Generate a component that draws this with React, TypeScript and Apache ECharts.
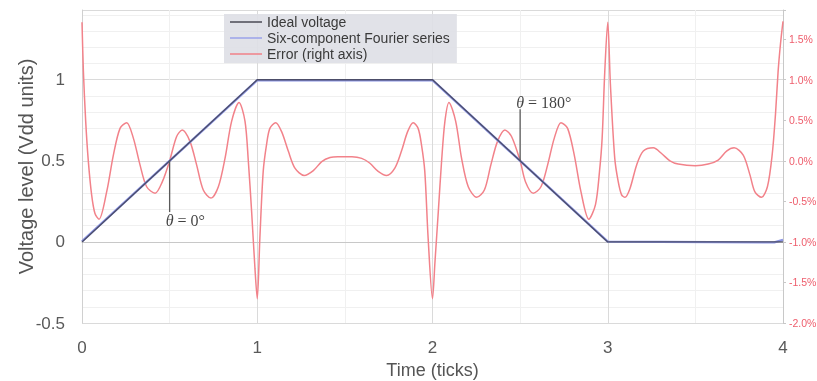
import React, { useEffect, useRef } from 'react';
import * as echarts from 'echarts';

// ---- data ----
const seriesNames = ['Ideal voltage', 'Six-component Fourier series', 'Error (right axis)'];
const xTickLabels = [0, 1, 2, 3, 4];
const leftTickLabels = [-0.5, 0, 0.5, 1];
const rightTickLabels = [-2.0, -1.5, -1.0, -0.5, 0.0, 0.5, 1.0, 1.5];

const idealX = [0, 1, 2, 3, 4];
const idealV = [0, 1, 1, 0, 0];

const fourierX = [0, 1, 2, 3, 3.95, 4];
const fourierV = [0.004, 0.997, 0.997, 0.002, -0.003, 0.012];

const errorX = [
  0, 0.008, 0.021, 0.036, 0.055, 0.074, 0.097, 0.141, 0.179, 0.217, 0.255, 0.293, 0.331, 0.369, 0.417, 0.458,
  0.5, 0.54, 0.572, 0.616, 0.654, 0.692, 0.736, 0.778, 0.816, 0.854, 0.896, 0.93, 0.949, 0.968, 0.987, 1.0,
  1.015, 1.034, 1.053, 1.072, 1.105, 1.139, 1.177, 1.215, 1.268, 1.32, 1.368, 1.415, 1.46, 1.5, 1.54, 1.596,
  1.643, 1.69, 1.738, 1.785, 1.823, 1.858, 1.89, 1.918, 1.937, 1.956, 1.975, 2.0,
  2.014, 2.033, 2.052, 2.071, 2.094, 2.132, 2.166, 2.204, 2.252, 2.296, 2.333, 2.371, 2.413, 2.451, 2.5, 2.531,
  2.575, 2.619, 2.657, 2.695, 2.733, 2.771, 2.809, 2.847, 2.892, 2.93, 2.953, 2.968, 2.983, 3.0,
  3.015, 3.04, 3.06, 3.079, 3.098, 3.127, 3.165, 3.203, 3.26, 3.307, 3.355, 3.402, 3.5, 3.573, 3.63, 3.678,
  3.721, 3.773, 3.811, 3.839, 3.877, 3.911, 3.938, 3.957, 3.972, 3.986, 4.0,
];
const errorPct = [
  1.71, 1.1, 0.49, 0.0, -0.42, -0.65, -0.72, -0.38, 0.07, 0.4, 0.47, 0.28, -0.05, -0.32, -0.4, -0.26,
  0.0, 0.3, 0.38, 0.24, -0.05, -0.36, -0.46, -0.32, 0.03, 0.49, 0.72, 0.49, 0.0, -0.63, -1.33, -1.7,
  -0.95, -0.13, 0.2, 0.4, 0.47, 0.36, 0.12, -0.09, -0.18, -0.12, -0.01, 0.04, 0.05, 0.05, 0.05, 0.03,
  -0.03, -0.13, -0.18, -0.09, 0.12, 0.36, 0.47, 0.4, 0.2, -0.13, -0.95, -1.7,
  -1.25, -0.63, 0.0, 0.49, 0.72, 0.49, 0.03, -0.32, -0.45, -0.36, -0.05, 0.24, 0.38, 0.3, 0.0, -0.26,
  -0.4, -0.32, -0.05, 0.28, 0.47, 0.4, 0.07, -0.38, -0.72, -0.54, -0.13, 0.28, 1.1, 1.71,
  0.95, 0.03, -0.26, -0.42, -0.45, -0.34, -0.05, 0.12, 0.16, 0.09, 0.0, -0.04, -0.06, -0.04, 0.01, 0.12,
  0.16, 0.07, -0.17, -0.38, -0.45, -0.32, 0.07, 0.57, 1.1, 1.45, 1.72,
];

// annotations (data coordinates on the left axis)
const annotationLabels = ['0°', '180°'];
const annotationX = [0.5, 2.5];
const annotationFrom = [0.5, 0.5];
const annotationTo = [0.185, 0.818];
const annotationTextY = [0.135, 0.862];

const zip = (xs: number[], ys: number[]) => xs.map((x, i) => [x, ys[i]]);
const near = (v: number, list: number[]) => list.some((t) => Math.abs(t - v) < 1e-6);

export default function App() {
  const ref = useRef<HTMLDivElement>(null);

  useEffect(() => {
    const chart = echarts.init(ref.current!, null, { renderer: 'svg' });
    const font = 'Liberation Sans, Arial, sans-serif';
    const serif = 'Liberation Serif, DejaVu Serif, serif';
    const major = '#dadada';
    const minor = '#f0f0f0';

    const annotationLineSeries = annotationX.map((x, i) => ({
      name: 'annot-line-' + i,
      type: 'line',
      yAxisIndex: 0,
      data: [[x, annotationFrom[i]], [x, annotationTo[i]]],
      symbol: 'none',
      lineStyle: { color: '#5a5a5a', width: 1.3 },
      z: 6,
      silent: true,
    }));

    const annotationTextSeries = {
      name: 'annot-text',
      type: 'scatter',
      yAxisIndex: 0,
      symbolSize: 0,
      silent: true,
      z: 7,
      data: annotationX.map((x, i) => ({
        value: [x, annotationTextY[i]],
        label: {
          show: true,
          position: 'inside',
          align: 'left',
          verticalAlign: 'middle',
          offset: [-4, 0],
          formatter: '{t|θ} = ' + annotationLabels[i],
          fontFamily: serif,
          fontSize: 16,
          color: '#111',
          rich: {
            t: { fontStyle: 'italic', fontFamily: serif, fontSize: 16, color: '#111' },
          },
        },
      })),
    };

    chart.setOption({
      animation: false,
      textStyle: { fontFamily: font },
      grid: { left: 82, right: 34, top: 10, bottom: 58, containLabel: false, outerBoundsMode: 'none' },
      legend: {
        data: seriesNames,
        orient: 'vertical',
        left: 224,
        top: 14,
        icon: 'rect',
        itemWidth: 32,
        itemHeight: 1.5,
        itemGap: 2,
        padding: [1, 7, 2, 6],
        backgroundColor: 'rgba(222,223,230,0.92)',
        textStyle: { fontSize: 14, color: '#3a3a3a', fontFamily: font },
      },
      xAxis: {
        type: 'value',
        min: 0,
        max: 4,
        interval: 0.5,
        name: 'Time (ticks)',
        nameLocation: 'middle',
        nameGap: 38,
        nameMoveOverlap: false,
        nameTextStyle: { fontSize: 18, color: '#555', fontFamily: font },
        axisLine: { show: true, lineStyle: { color: '#c8c8c8' } },
        axisTick: { show: false },
        axisLabel: {
          fontSize: 17,
          color: '#595959',
          margin: 16,
          formatter: (v: number) => (near(v, xTickLabels) ? String(v) : ''),
        },
        splitLine: { show: true, lineStyle: { color: [major, minor], width: 1 } },
      },
      yAxis: [
        {
          type: 'value',
          min: -0.5,
          max: 1.43,
          interval: 0.1,
          name: 'Voltage level (Vdd units)',
          nameLocation: 'middle',
          nameGap: 46,
          nameMoveOverlap: false,
          nameTextStyle: { fontSize: 20, color: '#555', fontFamily: font },
          axisLine: { show: true, lineStyle: { color: '#d0d0d0' } },
          axisTick: { show: false },
          axisLabel: {
            fontSize: 17,
            color: '#595959',
            margin: 17,
            formatter: (v: number) => (near(v, leftTickLabels) ? String(v) : ''),
          },
          splitLine: { show: true, lineStyle: { color: [major, minor, minor, minor, minor], width: 1 } },
        },
        {
          type: 'value',
          min: -2,
          max: 1.86,
          interval: 0.5,
          position: 'right',
          axisLine: { show: true, lineStyle: { color: '#c8c8c8' } },
          axisTick: { show: true, length: 3, lineStyle: { color: '#c8c8c8' } },
          axisLabel: {
            fontSize: 10.5,
            color: '#ee5d6c',
            margin: 6,
            formatter: (v: number) => (near(v, rightTickLabels) ? v.toFixed(1) + '%' : ''),
          },
          splitLine: { show: false },
        },
      ],
      series: [
        {
          name: seriesNames[0],
          type: 'line',
          yAxisIndex: 0,
          data: zip(idealX, idealV),
          symbol: 'none',
          color: '#4a4a55',
          lineStyle: { color: '#3c3c48', width: 1.3, opacity: 0.8 },
          z: 5,
        },
        {
          name: seriesNames[1],
          type: 'line',
          yAxisIndex: 0,
          data: zip(fourierX, fourierV),
          symbol: 'none',
          color: '#9aa2ea',
          lineStyle: { color: '#8a93e4', width: 2.4 },
          z: 4,
        },
        {
          name: seriesNames[2],
          type: 'line',
          yAxisIndex: 1,
          data: zip(errorX, errorPct),
          symbol: 'none',
          smooth: 0.3,
          color: '#f08088',
          lineStyle: { color: '#f2828a', width: 1.5 },
          z: 3,
        },
        ...annotationLineSeries,
        annotationTextSeries,
      ],
    });

    return () => chart.dispose();
  }, []);

  return <div ref={ref} style={{ position: 'fixed', left: 0, top: 0, width: 817, height: 381 }} />;
}
